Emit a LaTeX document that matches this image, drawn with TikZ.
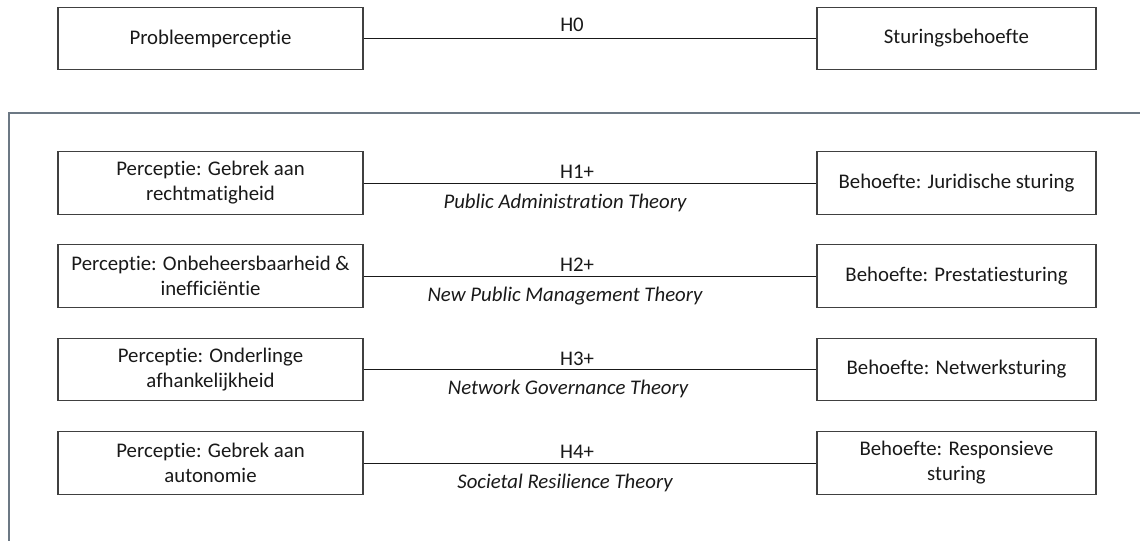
\documentclass[tikz,border=0pt]{standalone}
\usepackage{fontspec}
\setmainfont{Carlito}[Ligatures=NoCommon]
\begin{document}
\begin{tikzpicture}[x=0.75pt, y=-0.75pt,
  every node/.style={font=\fontsize{15.6}{18.75}\selectfont, text=black!90, inner sep=0pt},
  box/.style={draw=black!75, line width=0.9pt, align=center, minimum height=47pt},
  leftbox/.style={box, minimum width=228.75pt},
  rightbox/.style={box, minimum width=209.25pt},
  link/.style={draw=black!90, line width=0.7pt},
  hyp/.style={anchor=center},
  theory/.style={anchor=center, font=\fontsize{15.6}{18.75}\selectfont\itshape},
  frame/.style={line width=1.2pt}
]
\definecolor{framegray}{RGB}{108,120,132}
\useasboundingbox (0,0) rectangle (1140,540);

% outer frame around the four hypotheses (continues past the page edge)
\begin{scope}
  \clip (0,0) rectangle (1140,540);
  \draw[frame, draw=framegray] (9,113) rectangle (1200,620);
\end{scope}

% general hypothesis
\node[leftbox]  (p0) at (210.5,38.5) {Probleemperceptie};
\node[rightbox] (s0) at (956.5,38.5) {Sturingsbehoefte};
\draw[link] (p0) -- (s0);
\node[hyp] (h0) at (572,25) {H0};

% specific hypotheses
\node[leftbox]  (p1) at (210.5,183) {Perceptie: Gebrek aan\\rechtmatigheid};
\node[rightbox] (s1) at (956.5,183) {Behoefte: Juridische sturing};
\draw[link] (p1) -- (s1);
\node[hyp] (h1) at (577,172) {H1+};
\node[theory] (t1) at (565,203) {Public Administration Theory};

\node[leftbox]  (p2) at (210.5,276) {Perceptie: Onbeheersbaarheid \&\\inefficiëntie};
\node[rightbox] (s2) at (956.5,276) {Behoefte: Prestatiesturing};
\draw[link] (p2) -- (s2);
\node[hyp] (h2) at (577,265) {H2+};
\node[theory] (t2) at (565,296) {New Public Management Theory};

\node[leftbox]  (p3) at (210.5,369.5) {Perceptie: Onderlinge\\afhankelijkheid};
\node[rightbox] (s3) at (956.5,369.5) {Behoefte: Netwerksturing};
\draw[link] (p3) -- (s3);
\node[hyp] (h3) at (577,358.5) {H3+};
\node[theory] (t3) at (568,389) {Network Governance Theory};

\node[leftbox]  (p4) at (210.5,463) {Perceptie: Gebrek aan\\autonomie};
\node[rightbox] (s4) at (956.5,463) {Behoefte: Responsieve\\sturing};
\draw[link] (p4) -- (s4);
\node[hyp] (h4) at (577,452) {H4+};
\node[theory] (t4) at (565,482.5) {Societal Resilience Theory};
\end{tikzpicture}
\end{document}
